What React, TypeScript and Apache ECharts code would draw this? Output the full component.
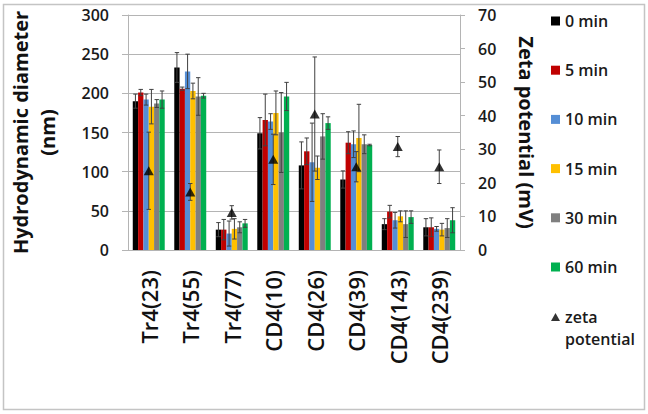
import React, { useEffect, useRef } from "react";
import * as echarts from "echarts";

const categories = ["Tr4(23)", "Tr4(55)", "Tr4(77)", "CD4(10)", "CD4(26)", "CD4(39)", "CD4(143)", "CD4(239)"];
const seriesNames = ["0 min", "5 min", "10 min", "15 min", "30 min", "60 min"];
const colors = ["#000000", "#c00000", "#558ed5", "#ffc000", "#7f7f7f", "#00b050"];

const min0 = [190, 233, 26, 149, 108, 90, 33, 29];
const err0 = [9, 19, 9, 20, 30, 11, 7, 11];
const min5 = [201, 206, 26, 166, 126, 137, 49, 29];
const err5 = [4, 2, 13, 33, 17, 14, 8, 12];
const min10 = [192, 228, 21, 164, 112, 135, 38, 27];
const err10 = [7, 22, 16, 10, 50, 17, 10, 3];
const min15 = [183, 203, 27, 175, 105, 143, 43, 26];
const err15 = [22, 10, 13, 28, 15, 43, 7, 8];
const min30 = [187, 196, 29, 150, 145, 135, 33, 28];
const err30 = [5, 24, 7, 51, 29, 12, 17, 12];
const min60 = [192, 197, 34, 196, 162, 134, 42, 38];
const err60 = [11, 3, 5, 18, 8, 1, 8, 16];

const zeta = [23.6, 17.3, 11.2, 27.0, 40.5, 24.8, 30.8, 24.8];
const zetaErr = [11.5, 2.5, 2, 7.5, 17, 4.5, 3, 5];

const leftTicks = { min: 0, max: 300, interval: 50 };
const rightTicks = { min: 0, max: 70, interval: 10 };

const barValues = [min0, min5, min10, min15, min30, min60];
const barErrors = [err0, err5, err10, err15, err30, err60];

const FONT = "'Open Sans', 'Noto Sans', sans-serif";
const GAP = 0.23;
const ERR_COLOR = "#404040";

export default function App() {
  const ref = useRef<HTMLDivElement>(null);
  useEffect(() => {
    if (!ref.current) return;
    const chart = echarts.init(ref.current, null, { renderer: "svg" });

    const errRender = (offsetIndex: number | null, count: number) => (params: any, api: any) => {
      const idx = api.value(0);
      const v = api.value(1);
      const e = api.value(2);
      const c = api.coord([idx, v]);
      const band = api.size([1, 0])[0];
      let cx = c[0];
      if (offsetIndex !== null) {
        const bw = (band * (1 - GAP)) / count;
        cx = c[0] + (offsetIndex - (count - 1) / 2) * bw;
      }
      const top = api.coord([idx, v + e])[1];
      const bot = api.coord([idx, Math.max(v - e, 0)])[1];
      const cap = 2.2;
      const style = { stroke: ERR_COLOR, lineWidth: 1 };
      return {
        type: "group",
        children: [
          { type: "line", shape: { x1: cx, y1: top, x2: cx, y2: bot }, style },
          { type: "line", shape: { x1: cx - cap, y1: top, x2: cx + cap, y2: top }, style },
          { type: "line", shape: { x1: cx - cap, y1: bot, x2: cx + cap, y2: bot }, style },
        ],
      };
    };

    const series: any[] = [];
    seriesNames.forEach((name, i) => {
      series.push({
        name,
        type: "bar",
        data: barValues[i],
        itemStyle: { color: colors[i] },
        barGap: "0%",
        barCategoryGap: GAP * 100 + "%",
        z: 2,
      });
    });
    seriesNames.forEach((name, i) => {
      series.push({
        name: name + " err",
        type: "custom",
        renderItem: errRender(i, seriesNames.length),
        data: barValues[i].map((v, k) => [k, v, barErrors[i][k]]),
        z: 3,
        silent: true,
      });
    });
    series.push({
      name: "zeta potential",
      type: "scatter",
      yAxisIndex: 1,
      data: zeta,
      symbol: "triangle",
      symbolSize: [10, 9],
      itemStyle: { color: "#000000" },
      z: 5,
    });
    series.push({
      name: "zeta err",
      type: "custom",
      yAxisIndex: 1,
      renderItem: errRender(null, 1),
      data: zeta.map((v, k) => [k, v, zetaErr[k]]),
      z: 4,
      silent: true,
    });

    const legendText = { fontSize: 16, fontWeight: 600, color: "#1a1a1a", lineHeight: 20, fontFamily: FONT };

    chart.setOption({
      animation: false,
      backgroundColor: "#ffffff",
      textStyle: { fontFamily: FONT },
      grid: { left: 128, right: 188, top: 15, bottom: 164, containLabel: false, outerBoundsMode: "none" },
      legend: [
        {
          data: seriesNames,
          orient: "vertical",
          left: 551,
          top: 11,
          padding: 0,
          itemWidth: 9,
          itemHeight: 9,
          itemGap: 29.2,
          icon: "rect",
          textStyle: legendText,
          selectedMode: false,
        },
        {
          data: ["zeta potential"],
          orient: "vertical",
          left: 551,
          top: 307,
          padding: 0,
          itemWidth: 9,
          itemHeight: 8,
          icon: "triangle",
          formatter: () => "zeta",
          textStyle: legendText,
          selectedMode: false,
        },
      ],
      graphic: [
        {
          type: "text",
          left: 565,
          top: 331,
          style: { text: "potential", fontSize: 16, fontWeight: 600, fill: "#1a1a1a", fontFamily: FONT },
        },
        {
          type: "rect",
          shape: { x: 3.5, y: 4.5, width: 641, height: 405 },
          style: { fill: "none", stroke: "#c4c4c4", lineWidth: 1.5 },
          z: -1,
        },
      ],
      xAxis: {
        type: "category",
        data: categories,
        axisLine: { lineStyle: { color: "#b4b4b4", width: 1 } },
        axisTick: { show: false },
        axisLabel: {
          rotate: 90,
          margin: 20,
          fontSize: 22,
          fontWeight: 600,
          color: "#111111",
          fontFamily: FONT,
        },
      },
      yAxis: [
        {
          type: "value",
          min: leftTicks.min,
          max: leftTicks.max,
          interval: leftTicks.interval,
          name: "Hydrodynamic diameter\n(nm)",
          nameLocation: "middle",
          nameGap: 67,
          nameTextStyle: { fontSize: 20, fontWeight: "bold", color: "#111111", lineHeight: 27, fontFamily: FONT },
          axisLine: { show: true, lineStyle: { color: "#b4b4b4" } },
          axisTick: { show: true, length: 6, lineStyle: { color: "#b4b4b4" } },
          axisLabel: { fontSize: 16, fontWeight: 600, color: "#1a1a1a", margin: 19, fontFamily: FONT },
          splitLine: { show: true, lineStyle: { color: "#b4b4b4", width: 1 } },
        },
        {
          type: "value",
          min: rightTicks.min,
          max: rightTicks.max,
          interval: rightTicks.interval,
          position: "right",
          name: "Zeta potential (mV)",
          nameLocation: "middle",
          nameRotate: -90,
          nameGap: 56,
          nameTextStyle: { fontSize: 20, fontWeight: "bold", color: "#111111", fontFamily: FONT },
          axisLine: { show: true, lineStyle: { color: "#b4b4b4" } },
          axisTick: { show: true, length: 5, lineStyle: { color: "#b4b4b4" } },
          axisLabel: { fontSize: 16, fontWeight: 600, color: "#1a1a1a", margin: 18, fontFamily: FONT },
          splitLine: { show: false },
        },
      ],
      series,
    });
    return () => chart.dispose();
  }, []);
  return (
    <div
      ref={ref}
      style={{ position: "fixed", left: 0, top: 0, width: 648, height: 414, background: "#fff" }}
    />
  );
}
